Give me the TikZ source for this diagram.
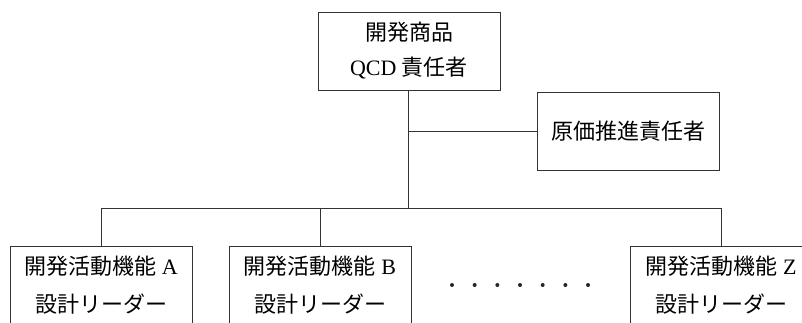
\documentclass[tikz,border=0pt]{standalone}
\usepackage{fontspec}
\setmainfont{Liberation Serif}
\newfontfamily\cjk{Noto Sans CJK JP}
\begin{document}
\begin{tikzpicture}[x=1pt,y=-1pt,
  line/.style={draw=black!80,line width=0.9pt},
  topbox/.style={line,minimum width=182pt,minimum height=78pt,inner sep=0pt,align=center,
    font=\fontsize{22pt}{35pt}\selectfont},
  sidebox/.style={line,minimum width=182pt,minimum height=78pt,inner sep=0pt,align=center,
    font=\fontsize{22pt}{35pt}\selectfont},
  childbox/.style={line,minimum width=182pt,minimum height=78pt,inner sep=0pt,align=center,
    font=\fontsize{22pt}{38pt}\selectfont},
  dotmark/.style={circle,fill=black!85,inner sep=0pt,minimum size=4pt}]
\useasboundingbox (0,0) rectangle (802,322);
\clip (0,0) rectangle (802,322);
\node[topbox] (top) at (409,51) {{\cjk 開発商品}\\QCD {\cjk 責任者}};
\node[sidebox] (side) at (628,131) {\raisebox{2pt}{\cjk 原価推進責任者}};
\node[childbox] (A) at (101,285) {{\cjk 開発活動機能} A\\{\cjk 設計リーダー}};
\node[childbox] (B) at (320,285) {{\cjk 開発活動機能} B\\{\cjk 設計リーダー}};
\node[childbox] (Z) at (721,285) {{\cjk 開発活動機能} Z\\{\cjk 設計リーダー}};
\coordinate (j) at (408,208);
\coordinate (s) at (408,131);
\draw[line] (top.south -| j) -- (j);
\draw[line] (s) -- (side.west);
\draw[line] (A.north) -- (A.north |- j) -- (Z.north |- j) -- (Z.north);
\draw[line] (B.north) -- (B.north |- j);
\foreach \i in {0,...,6} {
  \node[dotmark] (d\i) at ({452+\i*22.67},285) {};
}
\end{tikzpicture}
\end{document}
